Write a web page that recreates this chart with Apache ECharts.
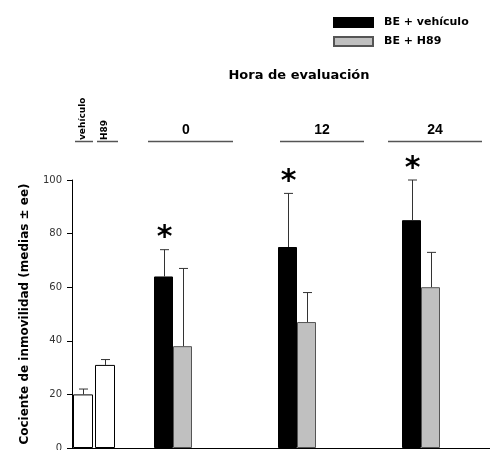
<!DOCTYPE html>
<html>
<head>
<meta charset="utf-8">
<script src="https://cdn.jsdelivr.net/npm/echarts@6/dist/echarts.min.js"></script>
<style>html,body{margin:0;padding:0;background:#fff}#c{width:490px;height:450px}</style>
</head>
<body>
<div id="c"></div>
<script>
// ---- data ----
const controlLabels = ['vehículo', 'H89'];
const controlValues = [20, 31];
const controlErrTop = [22, 33];
const hours = ['0', '12', '24'];
const vehValues = [64, 75, 85];
const vehErrTop = [74, 95, 100];
const h89Values = [38, 47, 60];
const h89ErrTop = [67, 58, 73];
const significant = [true, true, true];
const seriesNames = ['BE + vehículo', 'BE + H89'];
const yTitle = 'Cociente de inmovilidad (medias ± ee)';
const groupTitle = 'Hora de evaluación';

// ---- layout / style constants ----
const TOP = 180, H = 268;
const BAR_W = 19;
const CTRL_BAR_W = 20;
const hourLabelX = [186, 322, 435];
const hourLineX = [[148, 233], [280, 364], [388, 482]];
const ctrlLineX = [[75, 93], [97, 118]];
const LINE_Y = 141.5;

function errRender(offset, withStar) {
  return function (params, api) {
    const i = api.value(0);
    const base = api.coord([i, api.value(1)]);
    const top = api.coord([i, api.value(2)]);
    const x = Math.round(base[0] + offset) + 0.5;
    const children = [
      { type: 'line', shape: { x1: x, y1: base[1], x2: x, y2: top[1] }, style: { stroke: '#333', lineWidth: 1 } },
      { type: 'line', shape: { x1: x - 4.5, y1: top[1], x2: x + 4.5, y2: top[1] }, style: { stroke: '#333', lineWidth: 1 } }
    ];
    if (withStar && withStar[params.dataIndex]) {
      children.push({ type: 'text', style: { text: '*', x: x, y: top[1] - 11, fontSize: 30, fontWeight: 'bold', fontFamily: 'DejaVu Sans', fill: '#000', textAlign: 'center', textVerticalAlign: 'middle' } });
    }
    return { type: 'group', children: children };
  };
}

const graphics = [];
graphics.push({ type: 'text', style: { text: groupTitle, x: 299, y: 75.5, fontSize: 13, fontWeight: 'bold', fontFamily: 'DejaVu Sans', fill: '#000', textAlign: 'center', textVerticalAlign: 'middle' } });
hours.forEach((h, i) => {
  graphics.push({ type: 'text', style: { text: h, x: hourLabelX[i], y: 130, fontSize: 14, fontWeight: 'bold', fontFamily: 'Liberation Sans', fill: '#000', textAlign: 'center', textVerticalAlign: 'middle' } });
});
hourLineX.concat(ctrlLineX).forEach(p => {
  graphics.push({ type: 'line', shape: { x1: p[0], y1: LINE_Y, x2: p[1], y2: LINE_Y }, style: { stroke: '#555', lineWidth: 1.5 } });
});

const yBase = { min: 0, max: 100, interval: 20 };

const option = {
  animation: false,
  backgroundColor: '#fff',
  legend: {
    data: seriesNames,
    orient: 'vertical',
    left: 328, top: 12,
    itemWidth: 39, itemHeight: 9, itemGap: 8,
    icon: 'rect',
    textStyle: { fontSize: 11, fontWeight: 'bold', fontFamily: 'DejaVu Sans', color: '#000', padding: [0, 0, 0, 6] }
  },
  grid: [
    { left: 72, top: TOP, width: 44, height: H, outerBoundsMode: 'none' },
    { left: 111, top: TOP, width: 372, height: H, outerBoundsMode: 'none' },
    { left: 72, top: TOP, right: 0, height: H, outerBoundsMode: 'none' }
  ],
  xAxis: [
    { type: 'category', gridIndex: 0, data: controlLabels, position: 'top', offset: 38,
      axisLine: { show: false }, axisTick: { show: false },
      axisLabel: { rotate: 90, margin: 2, fontSize: 9, fontWeight: 'bold', fontFamily: 'DejaVu Sans', color: '#000' } },
    { type: 'category', gridIndex: 1, data: hours, axisLine: { show: false }, axisTick: { show: false }, axisLabel: { show: false } },
    { type: 'value', gridIndex: 2, min: 0, max: 1, axisLine: { show: true, lineStyle: { color: '#000', width: 1 } }, axisTick: { show: false }, axisLabel: { show: false }, splitLine: { show: false } }
  ],
  yAxis: [
    Object.assign({ type: 'value', gridIndex: 0,
      axisLine: { show: true, lineStyle: { color: '#000', width: 1 } },
      axisTick: { show: true, length: 5, lineStyle: { color: '#000' } },
      axisLabel: { fontSize: 10, fontFamily: 'DejaVu Sans', color: '#333', margin: 10 },
      splitLine: { show: false },
      name: yTitle, nameLocation: 'middle', nameGap: 41, nameRotate: 90,
      nameTextStyle: { fontSize: 12, fontWeight: 'bold', fontFamily: 'DejaVu Sans', color: '#000' } }, yBase),
    Object.assign({ type: 'value', gridIndex: 1, show: false }, yBase),
    Object.assign({ type: 'value', gridIndex: 2, show: false }, yBase)
  ],
  series: [
    { type: 'bar', name: 'control', xAxisIndex: 0, yAxisIndex: 0, barWidth: CTRL_BAR_W,
      data: controlValues, itemStyle: { color: '#fff', borderColor: '#000', borderWidth: 1 } },
    { type: 'bar', name: seriesNames[0], xAxisIndex: 1, yAxisIndex: 1, barWidth: BAR_W, barGap: '0%',
      data: vehValues, itemStyle: { color: '#000', borderColor: '#000', borderWidth: 1 } },
    { type: 'bar', name: seriesNames[1], xAxisIndex: 1, yAxisIndex: 1, barWidth: BAR_W, barGap: '0%',
      data: h89Values, itemStyle: { color: '#c0c0c0', borderColor: '#555', borderWidth: 1 } },
    { type: 'custom', name: 'errCtrl', xAxisIndex: 0, yAxisIndex: 0, z: 3,
      data: controlValues.map((v, i) => [i, v, controlErrTop[i]]), renderItem: errRender(0, null) },
    { type: 'custom', name: 'errVeh', xAxisIndex: 1, yAxisIndex: 1, z: 3,
      data: vehValues.map((v, i) => [i, v, vehErrTop[i]]), renderItem: errRender(-BAR_W / 2, significant) },
    { type: 'custom', name: 'errH89', xAxisIndex: 1, yAxisIndex: 1, z: 3,
      data: h89Values.map((v, i) => [i, v, h89ErrTop[i]]), renderItem: errRender(BAR_W / 2, null) }
  ],
  graphic: graphics
};

const chart = echarts.init(document.getElementById('c'), null, { renderer: 'canvas' });
chart.setOption(option);
</script>
</body>
</html>
